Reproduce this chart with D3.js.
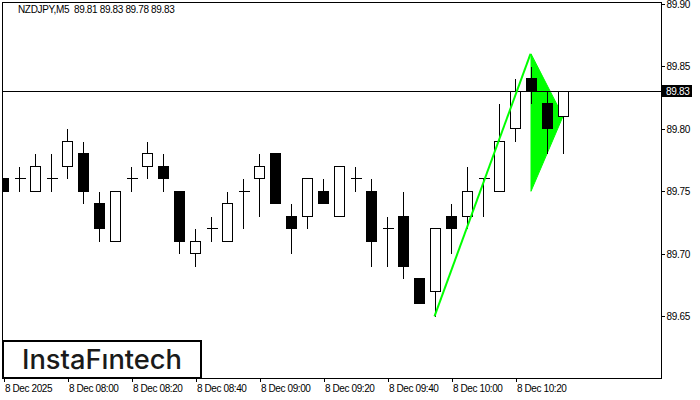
<!DOCTYPE html>
<html><head><meta charset="utf-8">
<script src="https://cdn.jsdelivr.net/npm/d3@7"></script>
<style>
html,body{margin:0;padding:0;background:#fff;}
svg{display:block;}
text{font-family:"Liberation Sans",Arial,sans-serif;}
</style></head>
<body>
<svg id="c" width="700" height="400"></svg>
<script>
// ---- data ----
const symbol = "NZDJPY,M5";
const startTime = "2025-12-08T07:40:00";
const opens  = [89.76,89.76,89.75,89.76,89.77,89.78,89.74,89.71,89.76,89.77,89.77,89.75,89.70,89.72,89.71,89.75,89.76,89.78,89.73,89.73,89.75,89.73,89.76,89.75,89.72,89.73,89.68,89.67,89.73,89.73,89.76,89.75,89.80,89.84,89.82,89.81];
const highs  = [89.76,89.77,89.78,89.78,89.80,89.79,89.75,89.75,89.77,89.79,89.78,89.75,89.72,89.73,89.75,89.76,89.78,89.78,89.74,89.76,89.76,89.77,89.77,89.76,89.73,89.75,89.68,89.72,89.74,89.77,89.76,89.82,89.84,89.85,89.83,89.83];
const lows   = [89.75,89.75,89.75,89.75,89.76,89.74,89.71,89.71,89.75,89.76,89.75,89.70,89.69,89.71,89.71,89.72,89.73,89.74,89.70,89.72,89.74,89.73,89.75,89.69,89.69,89.68,89.66,89.65,89.70,89.72,89.73,89.75,89.79,89.82,89.78,89.78];
const closes = [89.75,89.76,89.77,89.76,89.79,89.75,89.72,89.75,89.76,89.78,89.76,89.71,89.71,89.72,89.74,89.75,89.77,89.74,89.72,89.76,89.74,89.77,89.76,89.71,89.72,89.69,89.66,89.72,89.72,89.75,89.76,89.79,89.83,89.83,89.80,89.83];
const priceTicks = [89.65,89.70,89.75,89.80,89.85,89.90];
const timeTickLabels = ["8 Dec 2025","8 Dec 08:00","8 Dec 08:20","8 Dec 08:40","8 Dec 09:00","8 Dec 09:20","8 Dec 09:40","8 Dec 10:00","8 Dec 10:20"];
const timeTickIndex = [0,4,8,12,16,20,24,28,32];
const currentPrice = 89.83;
const poleIdx = [27,33];
const polePrice = [89.65,89.86];
const flagIdx = [33,35,33];
const flagPrice = [89.86,89.81,89.75];
const logoText = "InstaF\u0131ntech";

// ---- layout ----
const L = 2.5, R = 661.5, T = 2.5, B = 378.5;
const svg = d3.select("#c");
const t0 = new Date(startTime);
const tAt = i => new Date(t0.getTime() + i*5*60000);
const x = d3.scaleTime().domain([t0, tAt(36)]).range([3.5, 3.5 + 16*36]);
const y = d3.scaleLinear().domain([89.60, 89.90]).range([378.8, 3.8]);
const py = v => Math.floor(y(v)) + 0.5;

const candles = opens.map((o,i)=>({i, t:tAt(i), o, h:highs[i], l:lows[i], c:closes[i]}));

const clipId = "plotclip";
svg.append("clipPath").attr("id",clipId).append("rect")
  .attr("x",L).attr("y",T).attr("width",R-L).attr("height",B-T);
const plot = svg.append("g").attr("clip-path",`url(#${clipId})`);

// flag (beneath candles)
const flagPts = flagIdx.map((k,j)=>[x(tAt(k))-0.5, y(flagPrice[j])]);
plot.append("polygon").attr("points",flagPts.map(p=>p.join(",")).join(" "))
  .attr("fill","#00ff00").attr("stroke","#00ff00").attr("stroke-width",1);

// current price line
plot.append("line").attr("x1",L).attr("x2",R)
  .attr("y1",py(currentPrice)).attr("y2",py(currentPrice))
  .attr("stroke","#000").attr("stroke-width",1).attr("shape-rendering","crispEdges");

// candles
const g = plot.append("g").attr("shape-rendering","crispEdges");
const cg = g.selectAll("g.c").data(candles).join("g").attr("class","c");
cg.append("line")
  .attr("x1",d=>x(d.t)).attr("x2",d=>x(d.t))
  .attr("y1",d=>py(d.h)).attr("y2",d=>py(d.l))
  .attr("stroke","#000").attr("stroke-width",1);
cg.filter(d=>d.o!==d.c).append("rect")
  .attr("x",d=>x(d.t)-5).attr("width",10)
  .attr("y",d=>py(Math.max(d.o,d.c)))
  .attr("height",d=>py(Math.min(d.o,d.c))-py(Math.max(d.o,d.c)))
  .attr("fill",d=>d.c>d.o?"#fff":"#000")
  .attr("stroke","#000").attr("stroke-width",1);
cg.filter(d=>d.o===d.c).append("line")
  .attr("x1",d=>x(d.t)-5).attr("x2",d=>x(d.t)+6)
  .attr("y1",d=>py(d.o)).attr("y2",d=>py(d.o))
  .attr("stroke","#000").attr("stroke-width",1);

// pole (on top)
const polePts = poleIdx.map((k,j)=>[x(tAt(k))-1, y(polePrice[j])]);
plot.append("line")
  .attr("x1",polePts[0][0]).attr("y1",polePts[0][1])
  .attr("x2",polePts[1][0]).attr("y2",polePts[1][1])
  .attr("stroke","#00ff00").attr("stroke-width",2);

// frame
svg.append("rect").attr("x",L).attr("y",T).attr("width",R-L).attr("height",B-T)
  .attr("fill","none").attr("stroke","#000").attr("stroke-width",1).attr("shape-rendering","crispEdges");

// right axis
const ya = svg.append("g").attr("transform",`translate(${R},0)`)
  .call(d3.axisRight(y).tickValues(priceTicks).tickFormat(d3.format(".2f")).tickSize(3).tickPadding(2));
ya.select(".domain").remove();
ya.selectAll(".tick line").attr("stroke","#000").attr("shape-rendering","crispEdges");
ya.selectAll(".tick text").attr("fill","#000").style("font-size","10px").style("letter-spacing","-0.3px")
  .style("font-family",'"Liberation Sans",Arial,sans-serif');

// bottom axis
const xa = svg.append("g").attr("transform",`translate(0,${B})`)
  .call(d3.axisBottom(x).tickValues(timeTickIndex.map(tAt))
    .tickFormat((d,i)=>timeTickLabels[i]).tickSize(3).tickPadding(2));
xa.select(".domain").remove();
xa.selectAll(".tick line").attr("stroke","#000").attr("shape-rendering","crispEdges");
xa.selectAll(".tick text").attr("fill","#000").attr("text-anchor","start")
  .attr("x",1).attr("y",13.5).attr("dy",null)
  .style("font-size","10px").style("letter-spacing","-0.4px")
  .style("font-family",'"Liberation Sans",Arial,sans-serif');

// current price label
const cy = py(currentPrice);
svg.append("rect").attr("x",662).attr("y",cy-6.5).attr("width",30).attr("height",12).attr("fill","#000");
svg.append("text").attr("x",666).attr("y",cy).attr("dy","0.35em").attr("fill","#fff")
  .style("font-size","10px").style("letter-spacing","-0.3px").text(d3.format(".2f")(currentPrice));

// title
svg.append("text").attr("x",18).attr("y",13).attr("fill","#000")
  .attr("xml:space","preserve").style("white-space","pre")
  .style("font-size","10px").style("letter-spacing","-0.35px")
  .text(`${symbol}  ${opens[opens.length-1].toFixed(2)} ${highs[highs.length-1].toFixed(2)} ${lows[lows.length-1].toFixed(2)} ${closes[closes.length-1].toFixed(2)}`);

// logo
svg.append("rect").attr("x",3).attr("y",341).attr("width",198).attr("height",37)
  .attr("fill","#fff").attr("stroke","#000").attr("stroke-width",2);
svg.append("text").attr("x",22).attr("y",369).attr("fill","#1a1a1a")
  .attr("textLength",160).attr("lengthAdjust","spacingAndGlyphs")
  .style("font-family","Inter, Lato, sans-serif").style("font-weight","500").style("font-size","27px")
  .text(logoText);
</script>
</body></html>
